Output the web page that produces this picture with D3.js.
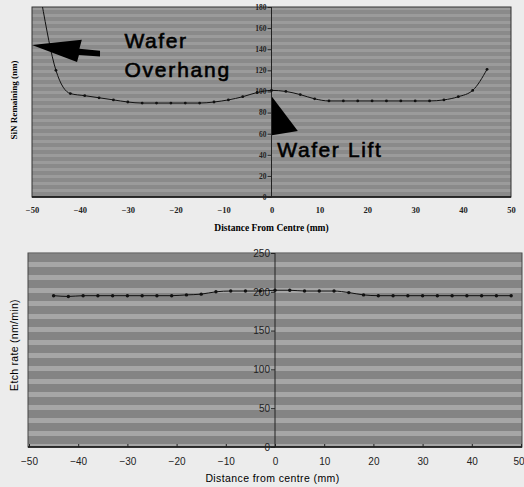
<!DOCTYPE html>
<html>
<head>
<meta charset="utf-8">
<script src="https://cdn.jsdelivr.net/npm/d3@7"></script>
<style>
    body { margin: 0; background: #ececec; }
    svg { display: block; }
</style>
</head>
<body>
<script>
// top chart: SiN remaining across the wafer
var sinDistance = [-48, -45, -42, -39, -36, -33, -30, -27, -24, -21, -18, -15, -12, -9, -6, -3, 0, 3, 6, 9, 12, 15, 18, 21, 24, 27, 30, 33, 36, 39, 42, 45];
var sinRemaining = [185, 120, 98, 96, 94, 92, 90, 89, 89, 89, 89, 89, 90, 92, 95, 99, 101, 100, 97, 93, 91, 91, 91, 91, 91, 91, 91, 91, 92, 95, 101, 121];
var sinTicks = [0, 20, 40, 60, 80, 100, 120, 140, 160, 180];

// bottom chart: etch rate across the wafer
var etchDistance = [-45, -42, -39, -36, -33, -30, -27, -24, -21, -18, -15, -12, -9, -6, -3, 0, 3, 6, 9, 12, 15, 18, 21, 24, 27, 30, 33, 36, 39, 42, 45, 48];
var etchRate = [195, 194, 195, 195, 195, 195, 195, 195, 195, 196, 197, 200, 201, 201, 201, 202, 202, 201, 201, 201, 199, 196, 195, 195, 195, 195, 195, 195, 195, 195, 195, 195];
var etchTicks = [0, 50, 100, 150, 200, 250];

var distTicks = [-50, -40, -30, -20, -10, 0, 10, 20, 30, 40, 50];

var w = 524, h = 487;

var svg = d3.select("body").append("svg")
    .attr("width", w)
    .attr("height", h);

var defs = svg.append("defs");

// scanned halftone look
var patTop = defs.append("pattern")
    .attr("id", "texTop")
    .attr("patternUnits", "userSpaceOnUse")
    .attr("width", 8).attr("height", 7);
patTop.append("rect").attr("width", 8).attr("height", 7).attr("fill", "#8a8a8a");
patTop.append("rect").attr("y", 0).attr("width", 8).attr("height", 3).attr("fill", "#9b9b9b");

var patBot = defs.append("pattern")
    .attr("id", "texBot")
    .attr("patternUnits", "userSpaceOnUse")
    .attr("width", 8).attr("height", 13);
patBot.append("rect").attr("width", 8).attr("height", 13).attr("fill", "#848484");
patBot.append("rect").attr("y", 2).attr("width", 8).attr("height", 5).attr("fill", "#a6a6a6");

// ---------- top chart ----------
var xTop = d3.scaleLinear().domain([-50, 50]).range([32, 511]);
var yTop = d3.scaleLinear().domain([0, 180]).range([197, 7]);

defs.append("clipPath").attr("id", "clipTop")
    .append("rect")
    .attr("x", xTop(-50)).attr("y", yTop(180))
    .attr("width", xTop(50) - xTop(-50))
    .attr("height", yTop(0) - yTop(180));

var gTop = svg.append("g");

gTop.append("rect")
    .attr("x", xTop(-50)).attr("y", yTop(180))
    .attr("width", xTop(50) - xTop(-50))
    .attr("height", yTop(0) - yTop(180))
    .attr("fill", "url(#texTop)")
    .attr("stroke", "#333")
    .attr("stroke-width", 1);

gTop.append("line")
    .attr("x1", xTop(-50)).attr("x2", xTop(50))
    .attr("y1", yTop(0)).attr("y2", yTop(0))
    .attr("stroke", "#111").attr("stroke-width", 1.5);

gTop.append("line")
    .attr("x1", xTop(0)).attr("x2", xTop(0))
    .attr("y1", yTop(0)).attr("y2", yTop(180))
    .attr("stroke", "#222").attr("stroke-width", 1);

var yAxisTop = d3.axisLeft(yTop).tickValues(sinTicks).tickSize(4).tickPadding(1);
var yTopG = gTop.append("g")
    .attr("transform", "translate(" + xTop(0) + ",0)")
    .call(yAxisTop);
yTopG.select(".domain").remove();
yTopG.selectAll("line").attr("stroke", "#222");
yTopG.selectAll("text")
    .attr("font-family", "Liberation Serif")
    .attr("font-weight", "bold")
    .attr("font-size", 7.5)
    .attr("fill", "#222");

var xAxisTop = d3.axisBottom(xTop).tickValues(distTicks).tickSize(0).tickPadding(10);
var xTopG = gTop.append("g")
    .attr("transform", "translate(0," + yTop(0) + ")")
    .call(xAxisTop);
xTopG.select(".domain").remove();
xTopG.selectAll("text")
    .attr("font-family", "Liberation Serif")
    .attr("font-weight", "bold")
    .attr("font-size", 8.5)
    .attr("fill", "#222");

gTop.append("text")
    .attr("x", xTop(0)).attr("y", 231)
    .attr("text-anchor", "middle")
    .attr("font-family", "Liberation Serif")
    .attr("font-weight", "bold")
    .attr("font-size", 9.5)
    .text("Distance From Centre (mm)");

gTop.append("text")
    .attr("transform", "translate(17," + yTop(92) + ") rotate(-90)")
    .attr("text-anchor", "middle")
    .attr("font-family", "Liberation Serif")
    .attr("font-weight", "bold")
    .attr("font-size", 9)
    .text("SiN Remaining (nm)");

var sinData = sinDistance.map(function (d, i) {
    return { x: d, y: sinRemaining[i] };
});

var lineTop = d3.line()
    .x(function (d) { return xTop(d.x); })
    .y(function (d) { return yTop(d.y); })
    .curve(d3.curveMonotoneX);

gTop.append("path")
    .datum(sinData)
    .attr("clip-path", "url(#clipTop)")
    .attr("d", lineTop)
    .attr("fill", "none")
    .attr("stroke", "#111")
    .attr("stroke-width", 1);

gTop.selectAll(".dotTop")
    .data(sinData.filter(function (d) { return d.y <= 180; }))
    .enter()
    .append("circle")
    .attr("class", "dotTop")
    .attr("cx", function (d) { return xTop(d.x); })
    .attr("cy", function (d) { return yTop(d.y); })
    .attr("r", 1.4)
    .attr("fill", "#111");

// annotations
var arrowLeft = [[-50, 144], [-39.6, 149], [-40.1, 140.5], [-35.8, 138.5], [-35.8, 133], [-40.2, 134.5], [-40.6, 128]];
gTop.append("polygon")
    .attr("points", arrowLeft.map(function (p) { return xTop(p[0]) + "," + yTop(p[1]); }).join(" "))
    .attr("fill", "#000");

var arrowUp = [[0.1, 95], [5.5, 62.5], [0.1, 58.5]];
gTop.append("polygon")
    .attr("points", arrowUp.map(function (p) { return xTop(p[0]) + "," + yTop(p[1]); }).join(" "))
    .attr("fill", "#000");

var annFont = "Liberation Sans";
var ann = [
    { t: "Wafer", x: -30.7, y: 141, ls: 1.6 },
    { t: "Overhang", x: -30.7, y: 114, ls: 1.8 },
    { t: "Wafer Lift", x: 1.2, y: 38, ls: 1.6 }
];
gTop.selectAll(".ann")
    .data(ann)
    .enter()
    .append("text")
    .attr("class", "ann")
    .attr("x", function (d) { return xTop(d.x); })
    .attr("y", function (d) { return yTop(d.y); })
    .attr("font-family", annFont).attr("font-size", 21)
    .attr("letter-spacing", function (d) { return d.ls; })
    .attr("fill", "#000")
    .attr("stroke", "#000")
    .attr("stroke-width", 0.6)
    .text(function (d) { return d.t; });

// ---------- bottom chart ----------
var xBot = d3.scaleLinear().domain([-50, 50]).range([29, 521]);
var yBot = d3.scaleLinear().domain([0, 250]).range([447, 253]);

var gBot = svg.append("g");

gBot.append("rect")
    .attr("x", xBot(-50) - 1).attr("y", yBot(250))
    .attr("width", xBot(50) - xBot(-50) + 2)
    .attr("height", yBot(0) - yBot(250))
    .attr("fill", "url(#texBot)")
    .attr("stroke", "#444")
    .attr("stroke-width", 1);

gBot.append("line")
    .attr("x1", xBot(-50) - 1).attr("x2", xBot(50) + 1)
    .attr("y1", yBot(0)).attr("y2", yBot(0))
    .attr("stroke", "#111").attr("stroke-width", 1.5);

gBot.append("line")
    .attr("x1", xBot(0)).attr("x2", xBot(0))
    .attr("y1", yBot(0)).attr("y2", yBot(250))
    .attr("stroke", "#222").attr("stroke-width", 1);

var yAxisBot = d3.axisLeft(yBot).tickValues(etchTicks).tickSize(4).tickPadding(1);
var yBotG = gBot.append("g")
    .attr("transform", "translate(" + xBot(0) + ",0)")
    .call(yAxisBot);
yBotG.select(".domain").remove();
yBotG.selectAll("line").attr("stroke", "#222");
yBotG.selectAll("text")
    .attr("font-family", "Liberation Sans")
    .attr("font-size", 10)
    .attr("fill", "#222");

var xAxisBot = d3.axisBottom(xBot).tickValues(distTicks).tickSizeInner(-3).tickSizeOuter(0).tickPadding(11);
var xBotG = gBot.append("g")
    .attr("transform", "translate(0," + yBot(0) + ")")
    .call(xAxisBot);
xBotG.select(".domain").remove();
xBotG.selectAll("line").attr("stroke", "#222");
xBotG.selectAll("text")
    .attr("font-family", "Liberation Sans")
    .attr("font-size", 10)
    .attr("fill", "#222");
// keep the last label inside the page
xBotG.selectAll("text")
    .filter(function (d) { return d === 50; })
    .attr("text-anchor", "end")
    .attr("x", 3);

gBot.append("text")
    .attr("x", xBot(-0.5)).attr("y", 482)
    .attr("text-anchor", "middle")
    .attr("font-family", "Liberation Sans")
    .attr("font-size", 10.5)
    .attr("letter-spacing", 0.4)
    .text("Distance from centre (mm)");

gBot.append("text")
    .attr("transform", "translate(18,345) rotate(-90)")
    .attr("text-anchor", "middle")
    .attr("font-family", "Liberation Sans")
    .attr("font-size", 10.5)
    .attr("letter-spacing", 0.3)
    .text("Etch rate (nm/min)");

var etchData = etchDistance.map(function (d, i) {
    return { x: d, y: etchRate[i] };
});

var lineBot = d3.line()
    .x(function (d) { return xBot(d.x); })
    .y(function (d) { return yBot(d.y); })
    .curve(d3.curveMonotoneX);

gBot.append("path")
    .datum(etchData)
    .attr("d", lineBot)
    .attr("fill", "none")
    .attr("stroke", "#111")
    .attr("stroke-width", 1);

gBot.selectAll(".dotBot")
    .data(etchData)
    .enter()
    .append("circle")
    .attr("class", "dotBot")
    .attr("cx", function (d) { return xBot(d.x); })
    .attr("cy", function (d) { return yBot(d.y); })
    .attr("r", 1.7)
    .attr("fill", "#111");
</script>
</body>
</html>
